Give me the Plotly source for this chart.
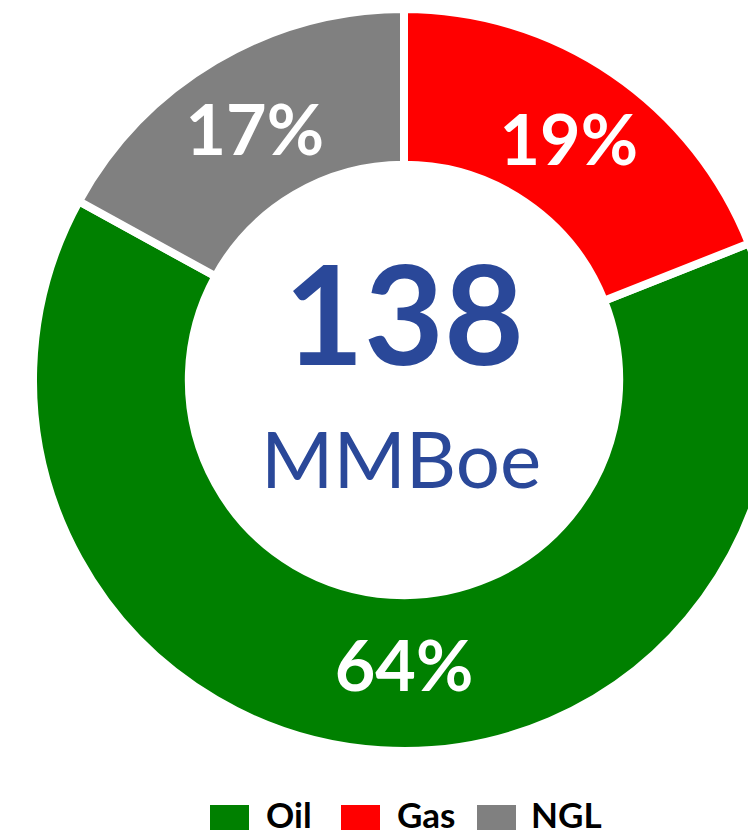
import plotly.graph_objects as go

# ---- data ----
labels = ["Oil", "Gas", "NGL"]
values = [64, 19, 17]          # percent of total reserves
colors = ["#008000", "#FF0000", "#808080"]
total_value = "138"
total_unit = "MMBoe"

# ---- layout helpers (pixels -> paper) ----
W, H = 780, 838
def px(x):
    return x / W
def py(y):
    return 1 - y / H

cx, cy, R = 404, 380, 371
vtot = sum(values)
rot = 360 * values[1] / vtot   # Oil starts where Gas ends (Gas from 12 o'clock)

fig = go.Figure()
fig.add_trace(go.Pie(
    labels=labels,
    values=values,
    sort=False,
    direction="counterclockwise",
    rotation=rot,
    hole=0.58,
    marker=dict(colors=colors, line=dict(color="white", width=8)),
    texttemplate="%{percent:.0%}",
    textposition="inside",
    insidetextorientation="horizontal",
    textfont=dict(family="Lato", size=70, color="white", weight="bold"),
    domain=dict(x=[px(cx - R), px(cx + R)], y=[py(cy + R), py(cy - R)]),
    showlegend=False,
    hoverinfo="label+percent",
))

ann = [
    dict(x=px(cx), y=py(312), text=total_value, showarrow=False, xanchor="center", yanchor="middle",
         font=dict(family="Lato", size=138, color="#2A4899", weight="bold")),
    dict(x=px(cx - 3), y=py(458), text=total_unit, showarrow=False, xanchor="center", yanchor="middle",
         font=dict(family="Lato", size=78, color="#2A4899")),
]

shapes = []
sw_x = [210, 341, 477]
tx_x = [264, 395, 529]
for lab, col, sx, tx in zip(labels, colors, sw_x, tx_x):
    shapes.append(dict(type="rect", xref="paper", yref="paper",
                       x0=px(sx), x1=px(sx + 39), y0=py(830), y1=py(805),
                       fillcolor=col, line=dict(width=0)))
    ann.append(dict(x=px(tx), y=py(837), text=lab, showarrow=False, xanchor="left", yanchor="bottom",
                    font=dict(family="Lato", size=35, color="black", weight="bold")))

fig.update_layout(
    width=W, height=H,
    margin=dict(l=0, r=0, t=0, b=0),
    paper_bgcolor="white", plot_bgcolor="white",
    annotations=ann, shapes=shapes,
    uniformtext=dict(minsize=70, mode="show"),
)

fig.write_html("out.html", config={"displayModeBar": False},
               post_script="document.body.style.margin='0';document.body.style.overflow='hidden';")
